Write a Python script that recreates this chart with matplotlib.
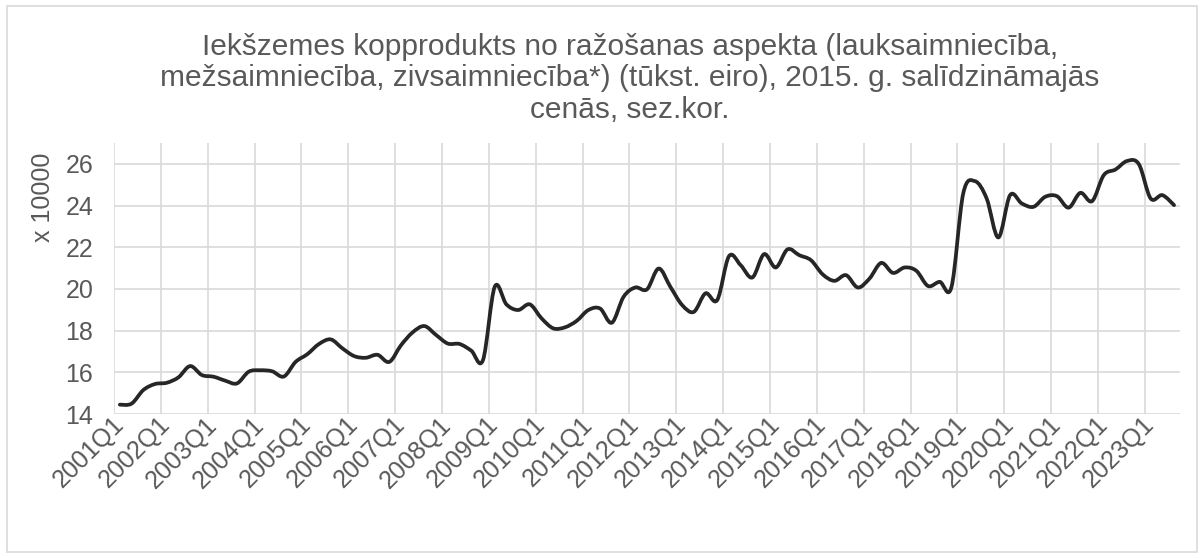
import matplotlib
matplotlib.use("Agg")
import matplotlib.pyplot as plt
from matplotlib.path import Path
from matplotlib.patches import PathPatch, Rectangle

plt.rcParams['font.family'] = ['Liberation Sans', 'DejaVu Sans']

# quarterly values, shown in units of 10000 (tūkst. eiro)
years = list(range(2001, 2024))
quarters = [f"{y}Q{q}" for y in years for q in range(1, 5)][:91]
values = [
    14.45, 14.5, 15.15, 15.44, 15.5, 15.76, 16.3, 15.87, 15.79, 15.6, 15.47, 16.03,
    16.1, 16.05, 15.8, 16.5, 16.87, 17.36, 17.58, 17.15, 16.78, 16.7, 16.84, 16.5,
    17.3, 17.92, 18.22, 17.79, 17.38, 17.36, 17.04, 16.59, 20.1, 19.26, 18.99, 19.26,
    18.59, 18.11, 18.16, 18.47, 18.99, 19.06, 18.38, 19.62, 20.07, 19.98, 20.98, 20.1,
    19.23, 18.9, 19.79, 19.47, 21.57, 21.14, 20.55, 21.67, 21.03, 21.9, 21.62, 21.38,
    20.7, 20.39, 20.66, 20.07, 20.5, 21.25, 20.77, 21.03, 20.87, 20.14, 20.34, 20.1,
    24.58, 25.17, 24.34, 22.47, 24.5, 24.1, 23.94, 24.42, 24.45, 23.9, 24.61, 24.21,
    25.46, 25.73, 26.14, 25.98, 24.34, 24.5, 24.02,
]
title = ("Iekšzemes kopprodukts no ražošanas aspekta (lauksaimniecība,\n"
         "mežsaimniecība, zivsaimniecība*) (tūkst. eiro), 2015. g. salīdzināmajās\n"
         "cenās, sez.kor.")

text_color = '#595959'
grid_color = '#d9d9d9'

fig = plt.figure(figsize=(12.04, 5.58), dpi=100)
ax = fig.add_axes([0.0947, 0.258, 0.8853, 0.4857])

# smooth line like Excel: cubic Bezier segments through every point
n = len(values)
pts = list(zip(range(n), values))
verts = [pts[0]]
codes = [Path.MOVETO]
for i in range(n - 1):
    p0 = pts[max(i - 1, 0)]
    p1 = pts[i]
    p2 = pts[i + 1]
    p3 = pts[min(i + 2, n - 1)]
    c1 = (p1[0] + (p2[0] - p0[0]) / 6, p1[1] + (p2[1] - p0[1]) / 6)
    c2 = (p2[0] - (p3[0] - p1[0]) / 6, p2[1] - (p3[1] - p1[1]) / 6)
    verts += [c1, c2, p2]
    codes += [Path.CURVE4] * 3
ax.add_patch(PathPatch(Path(verts, codes), facecolor='none', edgecolor='#262626',
                       lw=2.7, capstyle='round', joinstyle='round', zorder=3))

ax.set_xlim(-0.5, n - 0.5)
ax.set_ylim(14, 27)
ax.set_yticks(range(14, 27, 2))
ax.set_xticks(range(0, n, 4))
ax.set_xticklabels(quarters[::4], rotation=45, ha='right', va='center',
                   rotation_mode='anchor')
ax.tick_params(axis='both', length=0, labelsize=18, colors=text_color)
ax.tick_params(axis='x', pad=5)
ax.tick_params(axis='y', pad=15)

for y in range(14, 27, 2):
    ax.axhline(y, color=grid_color, lw=1.2, zorder=1)
for k in range(0, n, 4):
    ax.axvline(k - 0.5, color=grid_color, lw=1.2, zorder=1)
for s in ax.spines.values():
    s.set_visible(False)

fig.text(0.036, 0.647, 'x 10000', rotation=90, ha='center', va='center',
         fontsize=18, color=text_color)
fig.text(0.523, 0.86, title, ha='center', va='center', fontsize=21.5,
         color=text_color, linespacing=1.16)

fig.patches.append(Rectangle((0.006, 0.011), 0.988, 0.978, transform=fig.transFigure,
                             facecolor='none', edgecolor=grid_color, lw=1.2))

fig.savefig('out.png', dpi=100)
